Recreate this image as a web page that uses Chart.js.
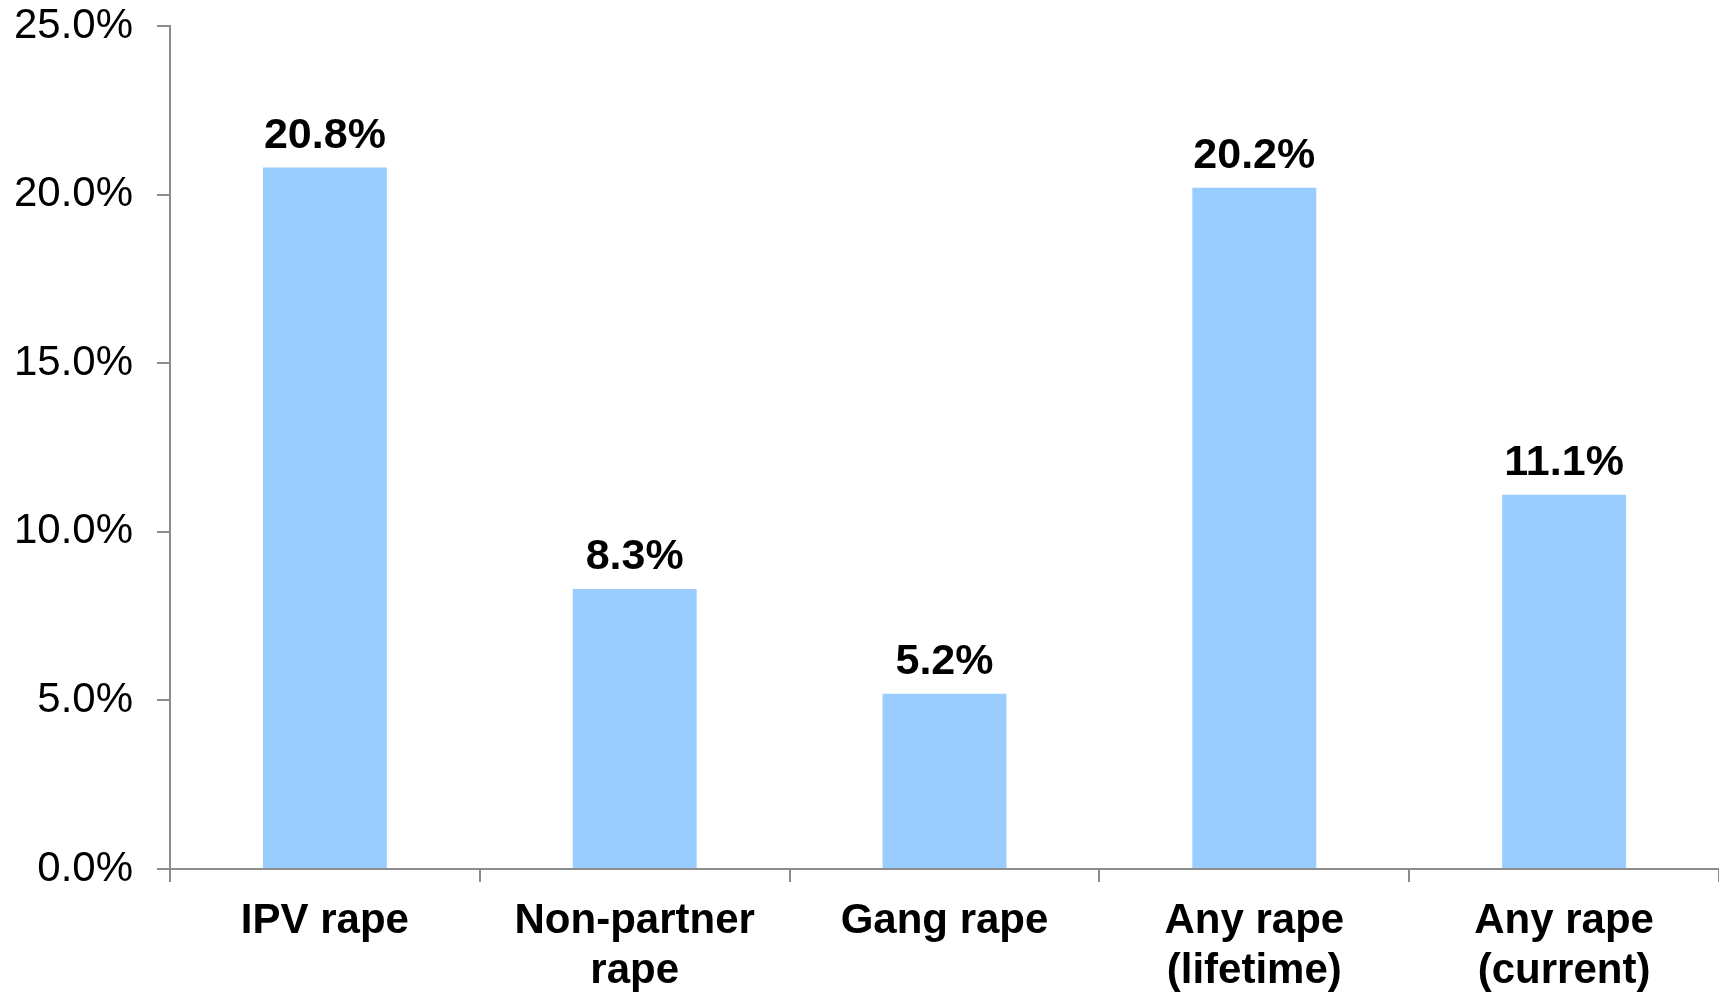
<!DOCTYPE html>
<html>
<head>
<meta charset="utf-8">
<script src="https://cdn.jsdelivr.net/npm/chart.js@4"></script>
<style>
  html, body { margin: 0; padding: 0; background: #fff; }
  #chart { display: block; }
</style>
</head>
<body>
<canvas id="chart" width="1719" height="994"></canvas>
<script>
const categories = [['IPV rape'], ['Non-partner', 'rape'], ['Gang rape'], ['Any rape', '(lifetime)'], ['Any rape', '(current)']];
const values = [20.8, 8.3, 5.2, 20.2, 11.1];
const yTicks = [0, 5, 10, 15, 20, 25];

const axisGray = '#8c8c8c';
const fontFamily = '"Liberation Sans", Arial, sans-serif';

// draws the value labels above each bar
const barLabels = {
  id: 'barLabels',
  afterDatasetsDraw(chart) {
    const ctx = chart.ctx;
    const meta = chart.getDatasetMeta(0);
    ctx.save();
    ctx.font = `bold 43px ${fontFamily}`;
    ctx.fillStyle = '#000';
    ctx.textAlign = 'center';
    ctx.textBaseline = 'bottom';
    meta.data.forEach((bar, i) => {
      ctx.fillText(values[i].toFixed(1) + '%', bar.x, bar.y - 10);
    });
    ctx.restore();
  }
};

new Chart(document.getElementById('chart'), {
  type: 'bar',
  data: {
    labels: categories,
    datasets: [{
      data: values,
      backgroundColor: '#99CCFF',
      categoryPercentage: 0.4,
      barPercentage: 1
    }]
  },
  options: {
    responsive: false,
    animation: false,
    devicePixelRatio: 1,
    layout: { padding: { top: 26, right: 0, bottom: 0, left: 0 } },
    plugins: { legend: { display: false }, tooltip: { enabled: false } },
    scales: {
      y: {
        min: 0,
        max: 25,
        afterBuildTicks: (axis) => { axis.ticks = yTicks.map(v => ({ value: v })); },
        afterFit: (axis) => { axis.width = 170; axis.paddingTop = 0; axis.paddingBottom = 0; },
        border: { color: axisGray, width: 2 },
        grid: { drawOnChartArea: false, drawTicks: true, tickLength: 13, color: axisGray, lineWidth: 2 },
        ticks: {
          padding: 24,
          color: '#000',
          font: { family: fontFamily, size: 42 },
          callback: (v) => v.toFixed(1) + '%'
        }
      },
      x: {
        offset: true,
        border: { color: axisGray, width: 2 },
        grid: { offset: true, drawOnChartArea: false, drawTicks: true, tickLength: 13, color: axisGray, lineWidth: 2 },
        afterFit: (axis) => { axis.height = 125; },
        ticks: {
          padding: 14,
          color: '#000',
          maxRotation: 0,
          autoSkip: false,
          font: { family: fontFamily, size: 42, weight: 'bold', lineHeight: 1.19 }
        }
      }
    }
  },
  plugins: [barLabels]
});
</script>
</body>
</html>
